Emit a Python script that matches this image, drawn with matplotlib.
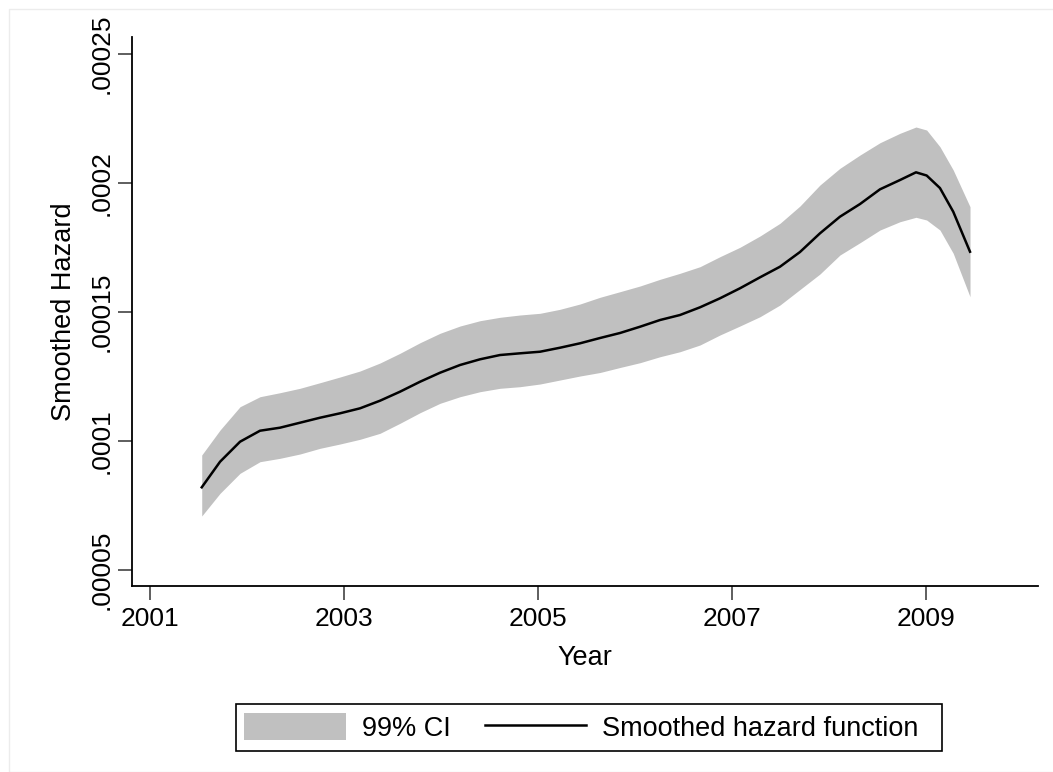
import numpy as np
import matplotlib
matplotlib.use("Agg")
import matplotlib.pyplot as plt
from matplotlib.patches import Rectangle, Patch
from matplotlib.lines import Line2D

plt.rcParams['font.family'] = ['Liberation Sans', 'DejaVu Sans']

# values (hazard in units of 1e-4)
year = [2001.533, 2001.722, 2001.928, 2002.134, 2002.340, 2002.546, 2002.753, 2002.959,
        2003.165, 2003.371, 2003.577, 2003.784, 2003.990, 2004.196, 2004.402, 2004.608,
        2004.814, 2005.021, 2005.227, 2005.433, 2005.639, 2005.845, 2006.052, 2006.258,
        2006.464, 2006.670, 2006.876, 2007.082, 2007.289, 2007.495, 2007.701, 2007.907,
        2008.113, 2008.320, 2008.526, 2008.732, 2008.897, 2009.007, 2009.144, 2009.281,
        2009.454]
hazard = [0.8205, 0.9198, 0.9973, 1.0399, 1.0516, 1.0709, 1.0903, 1.1074,
          1.1267, 1.1562, 1.1911, 1.2298, 1.2647, 1.2946, 1.3167, 1.3333,
          1.3399, 1.3461, 1.3616, 1.3787, 1.3992, 1.4186, 1.4430, 1.4690,
          1.4884, 1.5182, 1.5531, 1.5919, 1.6345, 1.6756, 1.7326, 1.8050,
          1.8694, 1.9186, 1.9756, 2.0116, 2.0415, 2.0291, 1.9806, 1.8888,
          1.7337]
upper = [0.9457, 1.0426, 1.1329, 1.1717, 1.1872, 1.2043, 1.2260, 1.2481,
         1.2713, 1.3023, 1.3399, 1.3810, 1.4175, 1.4457, 1.4663, 1.4795,
         1.4884, 1.4950, 1.5105, 1.5310, 1.5570, 1.5787, 1.6008, 1.6267,
         1.6500, 1.6756, 1.7144, 1.7508, 1.7946, 1.8438, 1.9109, 1.9923,
         2.0570, 2.1085, 2.1562, 2.1927, 2.2171, 2.2054, 2.1407, 2.0504,
         1.9081]
lower = [0.7093, 0.7973, 0.8748, 0.9198, 0.9329, 0.9496, 0.9717, 0.9884,
         1.0066, 1.0298, 1.0686, 1.1097, 1.1461, 1.1717, 1.1911, 1.2043,
         1.2105, 1.2209, 1.2364, 1.2519, 1.2655, 1.2849, 1.3035, 1.3267,
         1.3461, 1.3721, 1.4109, 1.4457, 1.4818, 1.5271, 1.5872, 1.6473,
         1.7209, 1.7686, 1.8178, 1.8500, 1.8671, 1.8566, 1.8178, 1.7275,
         1.5593]

xticks = [2001, 2003, 2005, 2007, 2009]
yticks = [0.00005, 0.0001, 0.00015, 0.0002, 0.00025]
ytick_labels = [".00005", ".0001", ".00015", ".0002", ".00025"]

year = np.array(year)
hazard = np.array(hazard) * 1e-4
upper = np.array(upper) * 1e-4
lower = np.array(lower) * 1e-4

fig = plt.figure(figsize=(10.53, 7.72), dpi=100)
fig.patches.append(Rectangle((9/1053, 0), 1.1, 1 - 9/772, transform=fig.transFigure,
                             fill=False, edgecolor="#ececec", linewidth=1))
ax = fig.add_axes([132/1053, 1 - 586/772, (1038 - 132)/1053, (586 - 37)/772])

ax.fill_between(year, lower, upper, color="#c0c0c0", linewidth=0)
ax.plot(year, hazard, color="black", linewidth=1.8)

ax.set_xlim(2000.814, 2010.155)
ax.set_ylim(0.0000438, 0.0002566)
ax.set_xticks(xticks)
ax.set_yticks(yticks)
ax.set_yticklabels(ytick_labels, rotation=90, va="center")

for s in ["top", "right"]:
    ax.spines[s].set_visible(False)
for s in ["left", "bottom"]:
    ax.spines[s].set_linewidth(1.3)
ax.tick_params(axis="both", length=10, width=1.1, color="#333333", labelsize=19)
ax.tick_params(axis="x", pad=5)
ax.tick_params(axis="y", pad=3)

ax.set_xlabel("Year", fontsize=19.5, labelpad=10)
ax.set_ylabel("Smoothed Hazard", fontsize=19.5, labelpad=9)

handles = [Patch(facecolor="#c0c0c0", edgecolor="none"),
           Line2D([], [], color="black", linewidth=1.8)]
leg = fig.legend(handles, ["99% CI", "Smoothed hazard function  "], ncol=2,
                 loc="center", bbox_to_anchor=(589/1053, 1 - 727.5/772),
                 fontsize=19.5, frameon=True, fancybox=False, framealpha=1,
                 edgecolor="black", handlelength=3.75, handleheight=1.15,
                 handletextpad=0.59, columnspacing=1.25, borderpad=0.33)
leg.get_frame().set_linewidth(1.2)

fig.savefig("out.png", dpi=100)
